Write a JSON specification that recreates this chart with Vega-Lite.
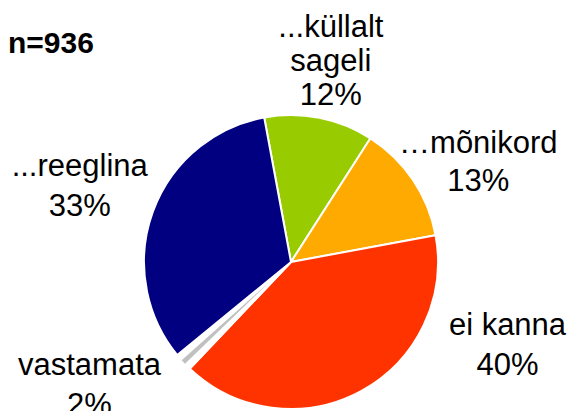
{
  "$schema": "https://vega.github.io/schema/vega-lite/v6.json",
  "width": 560,
  "height": 298,
  "autosize": "none",
  "padding": {"left": 11, "top": 113, "right": 0, "bottom": 0},
  "background": "white",
  "title": {"text": "n=936", "anchor": "start", "frame": "group", "font": "Liberation Sans", "fontSize": 30, "fontWeight": "bold", "color": "black", "baseline": "alphabetic", "dx": -3, "offset": -116},
  "config": {"view": {"stroke": null}},
  "data": {"values": [
    {"cat": "küllalt sageli", "value": 12, "ord": 1, "lines": ["...küllalt", "sageli", "12%"]},
    {"cat": "mõnikord", "value": 13, "ord": 2, "lines": ["…mõnikord", "13%"]},
    {"cat": "ei kanna", "value": 40, "ord": 3, "lines": ["ei kanna", "40%"]},
    {"cat": "vastamata", "value": 2, "ord": 4, "lines": ["vastamata", "2%"]},
    {"cat": "reeglina", "value": 33, "ord": 5, "lines": ["...reeglina", "33%"]}
  ]},
  "encoding": {
    "theta": {"field": "value", "type": "quantitative", "stack": true, "scale": {"range": [-0.18326, 6.09993]}},
    "order": {"field": "ord", "type": "quantitative"}
  },
  "layer": [
    {
      "mark": {"type": "arc", "outerRadius": 147, "stroke": "white", "strokeWidth": 2},
      "encoding": {
        "color": {"field": "cat", "type": "nominal", "legend": null,
          "scale": {"domain": ["küllalt sageli", "mõnikord", "ei kanna", "vastamata", "reeglina"],
                    "range": ["#99CC00", "#FFAA00", "#FF3300", "#FFFFFF", "#000080"]}}
      }
    },
    {
      "mark": {"type": "arc", "outerRadius": 147, "innerRadius": 31, "padAngle": 0.09, "fill": "#C0C0C0"},
      "encoding": {"opacity": {"condition": {"test": "datum.cat === 'vastamata'", "value": 1}, "value": 0}}
    },
    {
      "mark": {"type": "text", "radius": 207, "dy": -31, "lineHeight": 34, "font": "Liberation Sans", "fontSize": 31, "color": "black", "align": "center", "baseline": "middle"},
      "encoding": {"text": {"condition": {"test": "datum.cat === 'küllalt sageli'", "field": "lines"}, "value": ""}}
    },
    {
      "mark": {"type": "text", "radius": 210, "dx": 13, "dy": -1, "lineHeight": 38, "font": "Liberation Sans", "fontSize": 31, "color": "black", "align": "center", "baseline": "middle"},
      "encoding": {"text": {"condition": {"test": "datum.cat === 'mõnikord'", "field": "lines"}, "value": ""}}
    },
    {
      "mark": {"type": "text", "radius": 175, "dx": 133, "dy": -90, "lineHeight": 40, "font": "Liberation Sans", "fontSize": 31, "color": "black", "align": "center", "baseline": "middle"},
      "encoding": {"text": {"condition": {"test": "datum.cat === 'ei kanna'", "field": "lines"}, "value": ""}}
    },
    {
      "mark": {"type": "text", "radius": 230, "dx": -33, "dy": -53, "lineHeight": 40, "font": "Liberation Sans", "fontSize": 31, "color": "black", "align": "center", "baseline": "middle"},
      "encoding": {"text": {"condition": {"test": "datum.cat === 'vastamata'", "field": "lines"}, "value": ""}}
    },
    {
      "mark": {"type": "text", "radius": 225, "dy": -18, "lineHeight": 40, "font": "Liberation Sans", "fontSize": 31, "color": "black", "align": "center", "baseline": "middle"},
      "encoding": {"text": {"condition": {"test": "datum.cat === 'reeglina'", "field": "lines"}, "value": ""}}
    }
  ]
}
